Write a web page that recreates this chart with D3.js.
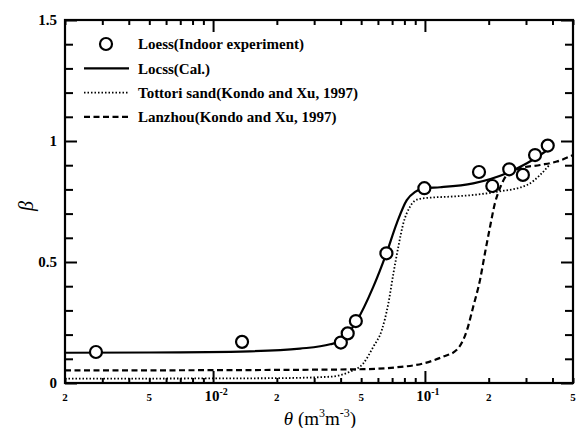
<!DOCTYPE html>
<html>
<head>
<meta charset="utf-8">
<script src="https://cdn.jsdelivr.net/npm/d3@7"></script>
<style>
  body { margin: 0; background: #fff; }
  text { font-family: "Liberation Serif", "DejaVu Serif", serif; fill: #000; }
</style>
</head>
<body>
<svg></svg>
<script>
// measured points (theta, beta)
const obsTheta = [0.0028, 0.0137, 0.0401, 0.0432, 0.0472, 0.0658, 0.0994, 0.180, 0.208, 0.250, 0.290, 0.331, 0.380];
const obsBeta  = [0.128, 0.170, 0.167, 0.205, 0.256, 0.536, 0.805, 0.872, 0.814, 0.883, 0.860, 0.942, 0.981];

// Loess (Cal.)
const calTheta = [0.002, 0.005, 0.0149, 0.0257, 0.0357, 0.0401, 0.0472, 0.0571, 0.0658, 0.0736, 0.0821, 0.0899, 0.0994, 0.118, 0.169, 0.243, 0.303, 0.390];
const calBeta  = [0.125, 0.126, 0.131, 0.142, 0.160, 0.175, 0.250, 0.398, 0.536, 0.660, 0.756, 0.790, 0.805, 0.809, 0.825, 0.867, 0.908, 0.970];

// Tottori sand (Kondo and Xu, 1997)
const totTheta = [0.002, 0.01, 0.02, 0.0357, 0.0443, 0.0512, 0.0571, 0.0626, 0.0672, 0.0710, 0.0749, 0.0791, 0.0851, 0.0931, 0.106, 0.131, 0.169, 0.218, 0.303, 0.350, 0.390];
const totBeta  = [0.018, 0.019, 0.020, 0.026, 0.047, 0.081, 0.150, 0.219, 0.329, 0.453, 0.563, 0.660, 0.729, 0.760, 0.766, 0.770, 0.777, 0.790, 0.818, 0.860, 0.905];

// Lanzhou (Kondo and Xu, 1997)
const lanTheta = [0.002, 0.01, 0.03, 0.0512, 0.0736, 0.0984, 0.122, 0.141, 0.158, 0.169, 0.182, 0.192, 0.203, 0.214, 0.226, 0.248, 0.281, 0.350, 0.419, 0.5];
const lanBeta  = [0.052, 0.053, 0.055, 0.057, 0.065, 0.081, 0.109, 0.136, 0.219, 0.315, 0.426, 0.536, 0.646, 0.743, 0.805, 0.867, 0.887, 0.901, 0.915, 0.942];

const xMinor = [0.002,0.003,0.004,0.005,0.006,0.007,0.008,0.009,0.02,0.03,0.04,0.05,0.06,0.07,0.08,0.09,0.2,0.3,0.4,0.5];
const xMajor = [0.01, 0.1];
const xLabels = [
  { v: 0.002, t: "2" }, { v: 0.005, t: "5" }, { v: 0.01, t: "10", e: "-2" },
  { v: 0.02, t: "2" }, { v: 0.05, t: "5" }, { v: 0.1, t: "10", e: "-1" },
  { v: 0.2, t: "2" }, { v: 0.5, t: "5" }
];
const yMajor = [0, 0.5, 1, 1.5];
const yMinor = [0.1,0.2,0.3,0.4,0.6,0.7,0.8,0.9,1.1,1.2,1.3,1.4];
const yLabels = ["0", "0.5", "1", "1.5"];

const legendNames = [
  "Loess(Indoor experiment)",
  "Locss(Cal.)",
  "Tottori sand(Kondo and Xu, 1997)",
  "Lanzhou(Kondo and Xu, 1997)"
];

const svgWidth = 576, svgHeight = 428;
const margin = { top: 20, right: 3, bottom: 45, left: 65 };
const width = svgWidth - margin.left - margin.right;
const height = svgHeight - margin.top - margin.bottom;

const svg = d3.select("svg")
  .attr("width", svgWidth)
  .attr("height", svgHeight);

const g = svg.append("g")
  .attr("transform", "translate(" + margin.left + "," + margin.top + ")");

const x = d3.scaleLog().domain([0.002, 0.5]).range([0, width]);
const y = d3.scaleLinear().domain([0, 1.5]).range([height, 0]);

// ticks, all pointing inward
function tickAxis(axis, vals, size, transform) {
  const a = g.append("g")
    .attr("transform", transform)
    .call(axis.tickValues(vals).tickSize(size).tickFormat(""));
  a.select(".domain").remove();
  a.selectAll("line").attr("stroke", "#000").attr("stroke-width", 2);
}
tickAxis(d3.axisBottom(x), xMinor, -5, "translate(0," + height + ")");
tickAxis(d3.axisBottom(x), xMajor, -12, "translate(0," + height + ")");
tickAxis(d3.axisTop(x), xMinor, -5, "translate(0,0)");
tickAxis(d3.axisTop(x), xMajor, -12, "translate(0,0)");
tickAxis(d3.axisLeft(y), yMinor, -8, "translate(0,0)");
tickAxis(d3.axisLeft(y), yMajor, -12, "translate(0,0)");
tickAxis(d3.axisRight(y), yMinor, -8, "translate(" + width + ",0)");
tickAxis(d3.axisRight(y), yMajor, -12, "translate(" + width + ",0)");

g.append("rect")
  .attr("width", width)
  .attr("height", height)
  .attr("fill", "none")
  .attr("stroke", "#000")
  .attr("stroke-width", 2.2);

// tick labels
xLabels.forEach(d => {
  const t = g.append("text")
    .attr("x", x(d.v))
    .attr("y", height + 18)
    .attr("text-anchor", "middle")
    .attr("font-weight", "bold");
  if (d.e) {
    t.attr("font-size", 15).attr("dx", 3);
    t.append("tspan").text(d.t);
    t.append("tspan").attr("font-size", 10).attr("dy", -6).text(d.e);
  } else {
    t.attr("font-size", 11).text(d.t);
  }
});

yMajor.forEach((v, i) => {
  g.append("text")
    .attr("x", -8)
    .attr("y", y(v))
    .attr("dy", "0.35em")
    .attr("text-anchor", "end")
    .attr("font-size", 15)
    .attr("font-weight", "bold")
    .text(yLabels[i]);
});

// axis titles
svg.append("text")
  .attr("transform", "translate(33,206) rotate(-90)")
  .attr("text-anchor", "middle")
  .attr("font-size", 20)
  .attr("font-style", "italic")
  .text("β");

const xt = svg.append("text")
  .attr("x", 320)
  .attr("y", 425)
  .attr("text-anchor", "middle")
  .attr("font-size", 19);
xt.append("tspan").attr("font-style", "italic").text("θ");
xt.append("tspan").text(" (m");
xt.append("tspan").attr("font-size", 12).attr("dy", -8).text("3");
xt.append("tspan").attr("dy", 8).text("m");
xt.append("tspan").attr("font-size", 12).attr("dy", -8).text("-3");
xt.append("tspan").attr("dy", 8).text(")");

// curves
const line = d3.line()
  .x(d => x(d[0]))
  .y(d => y(d[1]))
  .curve(d3.curveMonotoneX);

const curves = [
  { th: calTheta, b: calBeta, dash: null, w: 2.2 },
  { th: totTheta, b: totBeta, dash: "1.5,2", w: 1.8 },
  { th: lanTheta, b: lanBeta, dash: "6,3.5", w: 2.2 }
];

curves.forEach(c => {
  g.append("path")
    .datum(c.th.map((t, i) => [t, c.b[i]]))
    .attr("fill", "none")
    .attr("stroke", "#000")
    .attr("stroke-width", c.w)
    .attr("stroke-dasharray", c.dash)
    .attr("d", line);
});

g.selectAll("circle.obs")
  .data(obsTheta.map((t, i) => [t, obsBeta[i]]))
  .join("circle")
  .attr("class", "obs")
  .attr("cx", d => x(d[0]))
  .attr("cy", d => y(d[1]))
  .attr("r", 6)
  .attr("fill", "#fff")
  .attr("stroke", "#000")
  .attr("stroke-width", 2.2);

// legend
const legend = svg.append("g").attr("transform", "translate(84,44)");
legendNames.forEach((name, i) => {
  const row = legend.append("g").attr("transform", "translate(0," + (i * 24.3) + ")");
  if (i === 0) {
    row.append("circle")
      .attr("cx", 22).attr("cy", 0).attr("r", 6)
      .attr("fill", "#fff").attr("stroke", "#000").attr("stroke-width", 2.2);
  } else {
    row.append("line")
      .attr("x1", 0).attr("x2", 45).attr("y1", 0).attr("y2", 0)
      .attr("stroke", "#000")
      .attr("stroke-width", curves[i - 1].w)
      .attr("stroke-dasharray", curves[i - 1].dash);
  }
  row.append("text")
    .attr("x", 54)
    .attr("y", 0)
    .attr("dy", "0.35em")
    .attr("font-size", 15)
    .attr("font-weight", "bold")
    .text(name);
});
</script>
</body>
</html>
